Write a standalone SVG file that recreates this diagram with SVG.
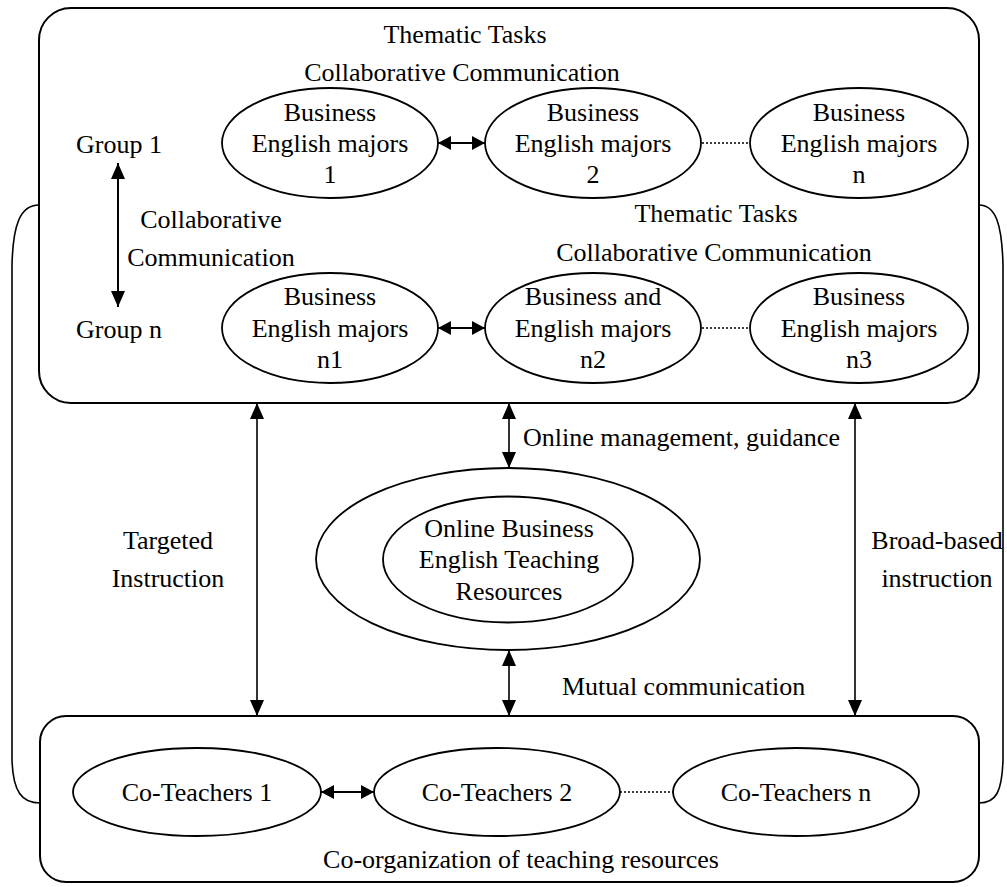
<svg xmlns="http://www.w3.org/2000/svg" width="1007" height="887" viewBox="0 0 1007 887">
<style>
  text { font-family: "Liberation Serif", "Times New Roman", serif; font-size: 26px; fill: #000; }
  .c { text-anchor: middle; }
  .box { fill: none; stroke: #000; stroke-width: 2; }
  .el { fill: #fff; stroke: #000; stroke-width: 1.8; }
  .ln { fill: none; stroke: #000; stroke-width: 1.6; }
  .hl { fill: none; stroke: #000; stroke-width: 2; }
  .dot { fill: none; stroke: #000; stroke-width: 1.4; stroke-dasharray: 2 2; }
</style>
<defs>
  <marker id="ah" viewBox="0 0 16 14" refX="16" refY="7" markerWidth="16" markerHeight="14" markerUnits="userSpaceOnUse" orient="auto-start-reverse">
    <path d="M0,0 L16,7 L0,14 Z" fill="#000"/>
  </marker>
  <marker id="ah2" viewBox="0 0 13 14" refX="13" refY="7" markerWidth="13" markerHeight="14" markerUnits="userSpaceOnUse" orient="auto-start-reverse">
    <path d="M0,0 L13,7 L0,14 Z" fill="#000"/>
  </marker>
</defs>

<g id="outer-bracket">
  <path class="ln" d="M39,205 C20,205 13,225 12,265 L12,760 C13,792 22,803 40,803"/>
  <path class="ln" d="M979,205 C996,205 1002,225 1003,265 L1003,760 C1002,792 996,803 979,803"/>
</g>

<g id="top-box">
  <rect class="box" x="39" y="8" width="940" height="395" rx="32" ry="32"/>
  <text class="c" x="465" y="43">Thematic Tasks</text>
  <text class="c" x="462" y="81">Collaborative Communication</text>
  <text class="c" x="716" y="222">Thematic Tasks</text>
  <text class="c" x="714" y="261">Collaborative Communication</text>
</g>

<g id="group1"><text x="76" y="153">Group 1</text></g>
<g id="groupn"><text x="76" y="338">Group n</text></g>
<g id="group-label">
  <text class="c" x="211" y="228">Collaborative</text>
  <text class="c" x="211" y="266">Communication</text>
</g>

<g id="bem1">
  <ellipse class="el" cx="330" cy="143" rx="108" ry="55"/>
  <text class="c" x="330" y="121">Business</text>
  <text class="c" x="330" y="152">English majors</text>
  <text class="c" x="330" y="183">1</text>
</g>
<g id="bem2">
  <ellipse class="el" cx="593" cy="143" rx="108" ry="55"/>
  <text class="c" x="593" y="121">Business</text>
  <text class="c" x="593" y="152">English majors</text>
  <text class="c" x="593" y="183">2</text>
</g>
<g id="bemn">
  <ellipse class="el" cx="859" cy="143" rx="109" ry="55"/>
  <text class="c" x="859" y="121">Business</text>
  <text class="c" x="859" y="152">English majors</text>
  <text class="c" x="859" y="183">n</text>
</g>
<g id="bemn1">
  <ellipse class="el" cx="330" cy="328" rx="108" ry="55"/>
  <text class="c" x="330" y="305">Business</text>
  <text class="c" x="330" y="337">English majors</text>
  <text class="c" x="330" y="368">n1</text>
</g>
<g id="bemn2">
  <ellipse class="el" cx="593" cy="328" rx="108" ry="55"/>
  <text class="c" x="593" y="305">Business and</text>
  <text class="c" x="593" y="337">English majors</text>
  <text class="c" x="593" y="368">n2</text>
</g>
<g id="bemn3">
  <ellipse class="el" cx="859" cy="328" rx="109" ry="55"/>
  <text class="c" x="859" y="305">Business</text>
  <text class="c" x="859" y="337">English majors</text>
  <text class="c" x="859" y="368">n3</text>
</g>

<g id="resources">
  <ellipse class="el" cx="508" cy="559" rx="192" ry="91"/>
  <ellipse class="el" cx="508" cy="559.5" rx="125" ry="63"/>
  <text class="c" x="509" y="537">Online Business</text>
  <text class="c" x="509" y="568">English Teaching</text>
  <text class="c" x="509" y="600">Resources</text>
</g>

<g id="bottom-box">
  <rect class="box" x="40" y="716" width="939" height="166" rx="26" ry="26"/>
  <text class="c" x="521" y="868">Co-organization of teaching resources</text>
</g>
<g id="ct1">
  <ellipse class="el" cx="197" cy="792" rx="124" ry="44"/>
  <text class="c" x="197" y="801">Co-Teachers 1</text>
</g>
<g id="ct2">
  <ellipse class="el" cx="497" cy="792" rx="123" ry="44"/>
  <text class="c" x="497" y="801">Co-Teachers 2</text>
</g>
<g id="ctn">
  <ellipse class="el" cx="796" cy="792" rx="123" ry="44"/>
  <text class="c" x="796" y="801">Co-Teachers n</text>
</g>

<g id="connectors">
  <line class="hl" x1="118" y1="163" x2="118" y2="307" marker-start="url(#ah)" marker-end="url(#ah)"/>
  <line class="hl" x1="438" y1="143" x2="485" y2="143" marker-start="url(#ah2)" marker-end="url(#ah2)"/>
  <line class="dot" x1="702" y1="143" x2="750" y2="143"/>
  <line class="hl" x1="438" y1="328" x2="485" y2="328" marker-start="url(#ah2)" marker-end="url(#ah2)"/>
  <line class="dot" x1="702" y1="328" x2="750" y2="328"/>
  <line class="ln" x1="257" y1="403" x2="257" y2="716" marker-start="url(#ah)" marker-end="url(#ah)"/>
  <line class="ln" x1="509" y1="403" x2="509" y2="468" marker-start="url(#ah)" marker-end="url(#ah)"/>
  <line class="ln" x1="509" y1="650" x2="509" y2="716" marker-start="url(#ah)" marker-end="url(#ah)"/>
  <line class="ln" x1="855" y1="403" x2="855" y2="716" marker-start="url(#ah)" marker-end="url(#ah)"/>
  <line class="hl" x1="321" y1="792" x2="374" y2="792" marker-start="url(#ah2)" marker-end="url(#ah2)"/>
  <line class="dot" x1="620" y1="792" x2="673" y2="792"/>
  <text x="523" y="446">Online management, guidance</text>
  <text x="562" y="695">Mutual communication</text>
  <text class="c" x="168" y="549">Targeted</text>
  <text class="c" x="168" y="587">Instruction</text>
  <text class="c" x="937" y="549">Broad-based</text>
  <text class="c" x="937" y="587">instruction</text>
</g>
</svg>
